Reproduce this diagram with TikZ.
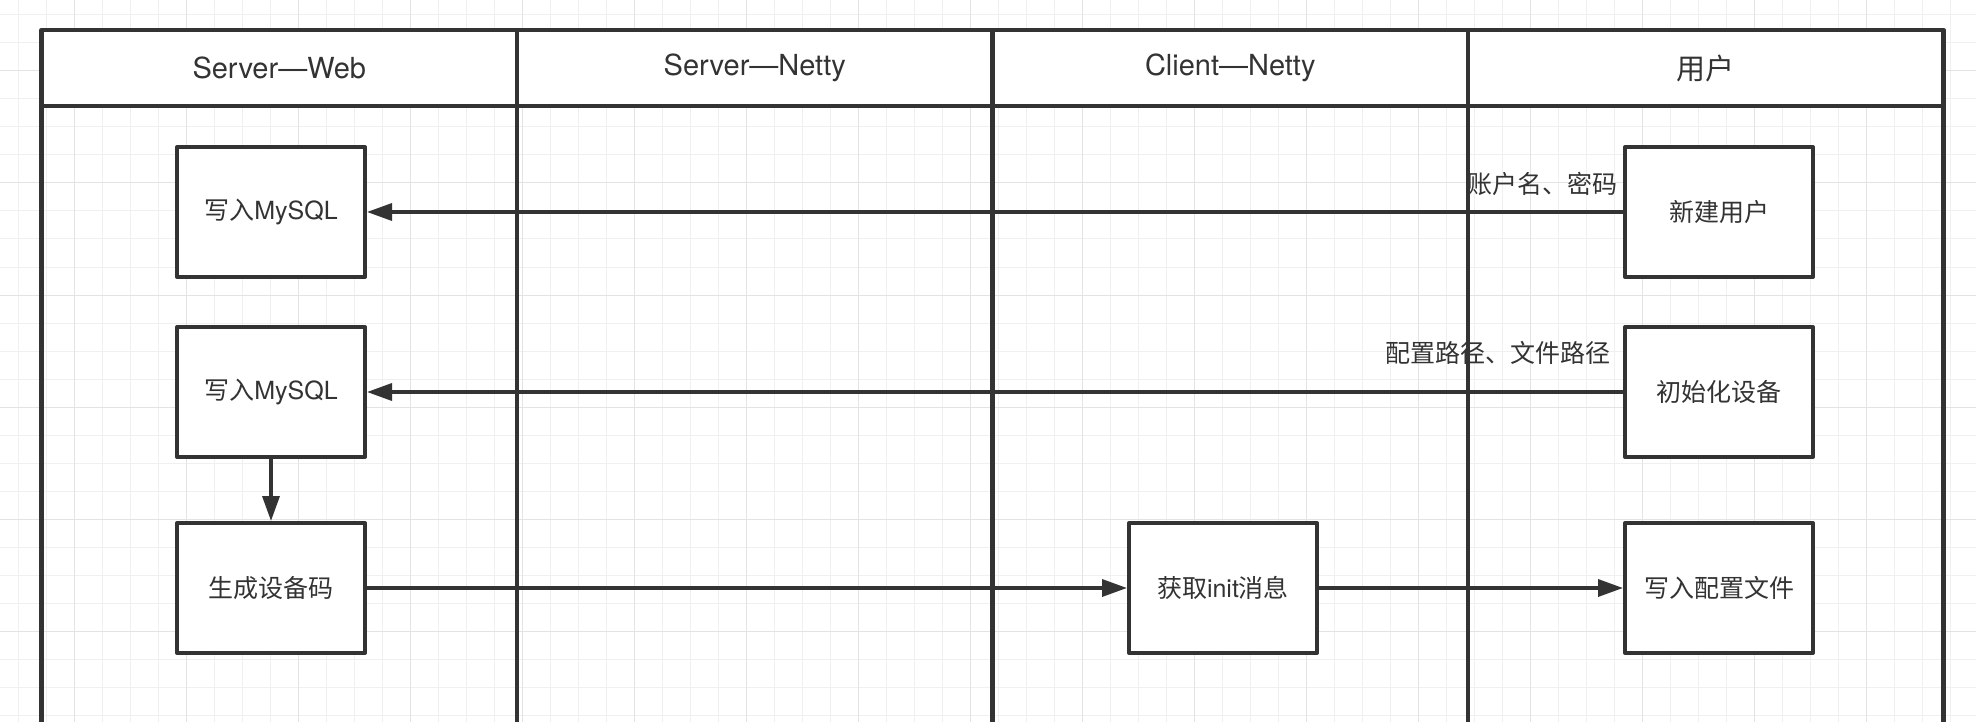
\documentclass[tikz,border=0pt]{standalone}
\usepackage{fontspec}
\setmainfont{TeX Gyre Heros}
\newfontfamily\cjk{Noto Sans CJK SC}
\usepackage{tikz}
\usetikzlibrary{positioning}
\usetikzlibrary{arrows.meta}
\definecolor{ink}{HTML}{333333}
\definecolor{gridminor}{HTML}{F0F0F0}
\definecolor{gridmajor}{HTML}{E3E3E3}

\begin{document}
\begin{tikzpicture}[x=1pt, y=-1pt, line cap=round, line join=round,
        lanehead/.style={draw=ink, line width=4.5pt, fill=white, outer sep=0pt, inner sep=0pt,
            minimum width=475.5pt, minimum height=76pt, text=ink, font=\fontsize{29}{35}\selectfont},
        procbox/.style={draw=ink, line width=4pt, fill=white, inner sep=0pt,
            minimum width=188pt, minimum height=130pt, text=ink, font=\fontsize{25}{30}\selectfont},
        flow/.style={draw=ink, line width=3.5pt, -{Triangle[length=25pt, width=17pt]}},
        msg/.style={inner sep=0pt, text=ink, font=\cjk\fontsize{25}{30}\selectfont}]
            \useasboundingbox (0,0) rectangle (1976,722);
            \clip (0,0) rectangle (1976,722);

            % background grid
            \foreach \i in {0,...,70} \draw[gridminor, line width=1pt] (18.3+28*\i,0) -- (18.3+28*\i,722);
            \foreach \j in {0,...,25} \draw[gridminor, line width=1pt] (0,15+28*\j) -- (1976,15+28*\j);
            \foreach \i in {0,...,17} \draw[gridmajor, line width=1pt] (74.3+112*\i,0) -- (74.3+112*\i,722);
            \foreach \j in {0,...,5} \draw[gridmajor, line width=1pt] (0,71+112*\j) -- (1976,71+112*\j);

            % lane headers
            \node[lanehead] (hWeb) at (279.25,68) {Server—Web};
            \node[lanehead] (hSrvNetty) at (754.75,68) {Server—Netty};
            \node[lanehead] (hCliNetty) at (1230.25,68) {Client—Netty};
            \node[lanehead] (hUser) at (1705.75,68) {\cjk 用户};

            % lane borders
            \foreach \h in {hWeb,hSrvNetty,hCliNetty,hUser}
                \draw[ink, line width=4.5pt] (\h.south west) -- ++(0,640);
            \draw[ink, line width=4.5pt] (hUser.south east) -- ++(0,640);

            % steps
            \node[procbox] (mysqlA) at (271,212) {{\cjk 写入}MySQL};
            \node[procbox] (mysqlB) at (271,392) {{\cjk 写入}MySQL};
            \node[procbox] (devCode) at (271,588) {\cjk 生成设备码};
            \node[procbox] (fetchInit) at (1223,588) {{\cjk 获取}init{\cjk 消息}};
            \node[procbox] (newUser) at (1719,212) {\cjk 新建用户};
            \node[procbox] (initDev) at (1719,392) {\cjk 初始化设备};
            \node[procbox] (writeCfg) at (1719,588) {\cjk 写入配置文件};

            % messages
            \draw[flow] (newUser) -- (mysqlA);
            \draw[flow] (initDev) -- (mysqlB);
            \draw[flow] (mysqlB) -- (devCode);
            \draw[flow] (devCode) -- (fetchInit);
            \draw[flow] (fetchInit) -- (writeCfg);

            % edge labels
            \node[msg, above left=16pt and 5pt of newUser.west] (lblUser) {账户名、密码};
            \node[msg, above left=27pt and 12pt of initDev.west] (lblPath) {配置路径、文件路径};
        \end{tikzpicture}
\end{document}
